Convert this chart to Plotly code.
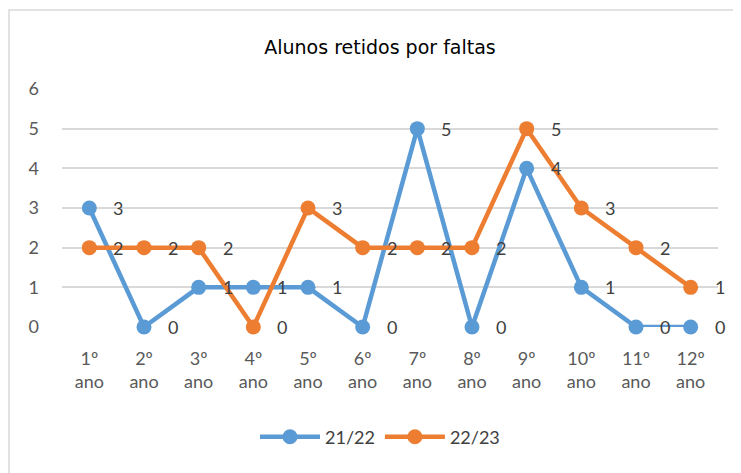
import plotly.graph_objects as go

categories = ["1º<br>ano", "2º<br>ano", "3º<br>ano", "4º<br>ano", "5º<br>ano", "6º<br>ano",
              "7º<br>ano", "8º<br>ano", "9º<br>ano", "10º<br>ano", "11º<br>ano", "12º<br>ano"]
series_names = ["21/22", "22/23"]
values_2122 = [3, 0, 1, 1, 1, 0, 5, 0, 4, 1, 0, 0]
values_2223 = [2, 2, 2, 0, 3, 2, 2, 2, 5, 3, 2, 1]
colors = ["#5B9BD5", "#ED7D31"]
y_ticks = [0, 1, 2, 3, 4, 5, 6]

# page has an 8px body margin; work in figure coordinates
OFF = 8
W, H = 741 - OFF, 473 - OFF
L, T = 62 - OFF, 89 - OFF
R = W - (718 - OFF)
B = H - (327 - OFF)
pw, ph = W - L - R, H - T - B

fig = go.Figure()
for name, vals, col in zip(series_names, [values_2122, values_2223], colors):
    fig.add_trace(go.Scatter(
        x=categories, y=vals, name=name, mode="lines+markers", cliponaxis=False,
        line=dict(color=col, width=4.5), marker=dict(color=col, size=15),
    ))

annotations = []
for vals in [values_2122, values_2223]:
    for c, v in zip(categories, vals):
        annotations.append(dict(x=c, y=v, xref="x", yref="y", text=str(v), showarrow=False,
                                xshift=29, yshift=0,
                                font=dict(family="Lato", size=18, color="#404040")))

cx = 380 - OFF
fig.update_layout(
    width=W, height=H,
    margin=dict(l=L, r=R, t=T, b=B),
    paper_bgcolor="white", plot_bgcolor="white",
    title=dict(text="Alunos retidos por faltas", x=cx / W, xanchor="center",
               y=1 - (47 - OFF) / H, yanchor="middle",
               font=dict(family="DejaVu Sans", size=19, color="#000000")),
    showlegend=True,
    legend=dict(orientation="h", x=(cx - L) / pw, xanchor="center",
                y=-((437 - OFF) - T - ph) / ph,
                yanchor="middle", font=dict(family="Lato", size=18, color="#404040"),
                itemwidth=60),
    xaxis=dict(type="category", range=[-0.5, 11.5], showgrid=False, zeroline=False,
               showline=False, ticks="", automargin=False,
               tickfont=dict(family="Lato", size=18, color="#595959"),
               ticklabelstandoff=19),
    yaxis=dict(range=[0, 6], tickvals=y_ticks, showgrid=True, gridcolor="#D9D9D9", gridwidth=1.5,
               zeroline=False, showline=False, ticks="", automargin=False,
               tickfont=dict(family="Lato", size=18, color="#595959"), ticklabelstandoff=22),
    annotations=annotations,
    shapes=[dict(type="rect", xref="paper", yref="paper",
                 x0=(1 - L) / pw, x1=(W + 10 - L) / pw,
                 y0=-(H + 10 - T - ph) / ph, y1=(T + ph - 2) / ph,
                 line=dict(color="#D9D9D9", width=1.5), fillcolor="rgba(0,0,0,0)", layer="below")],
)

fig.write_html("out.html")
